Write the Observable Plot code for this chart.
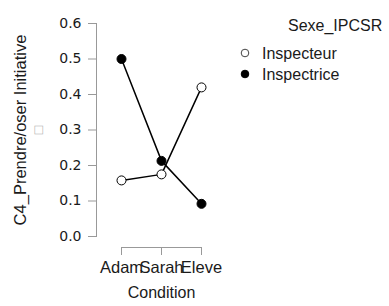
<!DOCTYPE html>
<html>
<head>
<meta charset="utf-8">
<script src="https://cdn.jsdelivr.net/npm/d3@7"></script>
<script src="https://cdn.jsdelivr.net/npm/@observablehq/plot@0.6"></script>
<style>
  html, body { margin: 0; padding: 0; background: #fff; }
  #wrap { position: relative; width: 389px; height: 306px; font-family: "Liberation Sans", Arial, sans-serif; color: #1a1a1a; }
  #legend { position: absolute; left: 0; top: 0; width: 389px; height: 306px; pointer-events: none; }
</style>
</head>
<body>
<div id="wrap"><div id="chart"></div><svg id="legend" width="389" height="306"></svg></div>
<script>
const conditions = ["Adam", "Sarah", "Eleve"];
const groups = ["Inspecteur", "Inspectrice"];
const inspecteur = [0.158, 0.175, 0.42];
const inspectrice = [0.50, 0.213, 0.092];
const yTicks = [0, 0.1, 0.2, 0.3, 0.4, 0.5, 0.6];
const xLabel = "Condition";
const yLabel = "C4_Prendre/oser Initiative";
const legendTitle = "Sexe_IPCSR";

const rows = [];
conditions.forEach((c, i) => {
  rows.push({condition: c, group: groups[0], value: inspecteur[i]});
  rows.push({condition: c, group: groups[1], value: inspectrice[i]});
});
const fillOf = g => g === groups[0] ? "white" : "black";

const axisGray = "#999";
const textColor = "#1a1a1a";
const plot = Plot.plot({
  width: 389, height: 306,
  marginLeft: 96, marginTop: 23, marginBottom: 70, marginRight: 163,
  style: {fontFamily: '"Liberation Sans", Arial, sans-serif', fontSize: "16px", color: textColor, background: "white"},
  x: {type: "point", domain: conditions, range: [120, 201], padding: 0},
  y: {domain: [0, 0.6], range: [236, 23]},
  marks: [
    Plot.frame({anchor: "left", stroke: axisGray}),
    Plot.axisY({ticks: yTicks, tickFormat: d3.format(".1f"), tickSize: 8, tickPadding: 7, stroke: axisGray, fill: textColor, fontSize: 14, fontFamily: '"DejaVu Sans", sans-serif', label: null}),
    Plot.ruleY([0], {x1: () => conditions[0], x2: () => conditions[conditions.length - 1], dy: 11, stroke: axisGray}),
    Plot.axisX({anchor: "bottom", tickSize: 8, tickPadding: 6, dy: 11, stroke: axisGray, fill: textColor, fontSize: 16.5, label: null}),
    Plot.text([xLabel], {frameAnchor: "bottom", dy: 61, fontSize: 16, fill: textColor}),
    Plot.text([yLabel], {frameAnchor: "left", textAnchor: "middle", rotate: -90, dx: -76, fontSize: 16.5, fill: textColor}),
    Plot.text(["\u25A1"], {frameAnchor: "left", textAnchor: "middle", rotate: -90, dx: -58, fontSize: 14, fill: "#aaa"}),
    Plot.line(rows, {x: "condition", y: "value", z: "group", stroke: "black", strokeWidth: 1.5}),
    Plot.dot(rows, {x: "condition", y: "value", r: 4.5, stroke: "black", strokeWidth: 1, fill: d => fillOf(d.group)})
  ]
});
document.getElementById("chart").appendChild(plot);

// Legend
const lg = d3.select("#legend");
const ff = '"Liberation Sans", Arial, sans-serif';
lg.append("text").attr("x", 288).attr("y", 25).attr("dy", "0.35em")
  .attr("font-family", ff).attr("font-size", 16).attr("fill", textColor).text(legendTitle);
groups.forEach((g, i) => {
  const cy = 53 + i * 21;
  lg.append("circle").attr("cx", 245).attr("cy", cy).attr("r", 3.8)
    .attr("fill", fillOf(g)).attr("stroke", i === 0 ? "#444" : "black").attr("stroke-width", 1);
  lg.append("text").attr("x", 262).attr("y", cy).attr("dy", "0.35em")
    .attr("font-family", ff).attr("font-size", 16).attr("fill", textColor).text(g);
});
</script>
</body>
</html>
